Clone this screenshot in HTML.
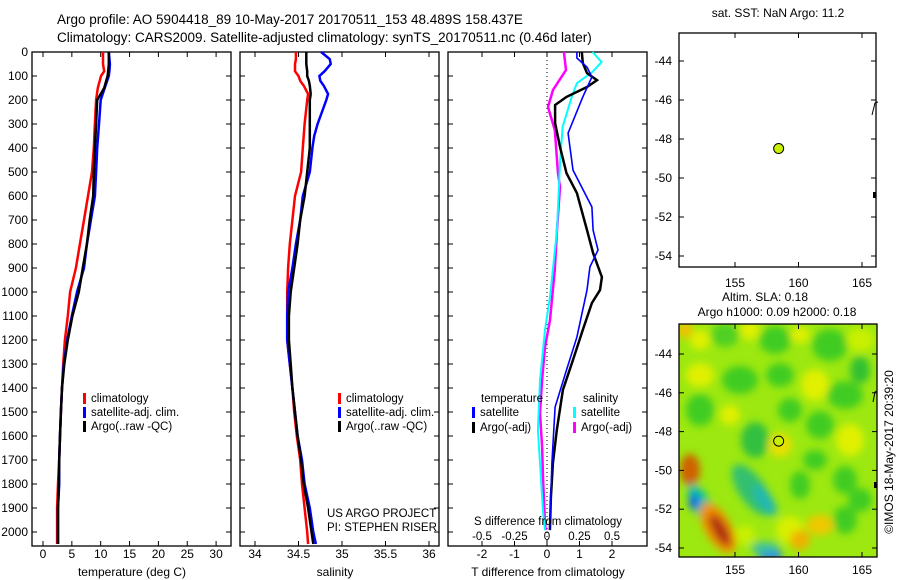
<!DOCTYPE html>
<html><head><meta charset="utf-8"><style>
body{margin:0;background:#fff;}
svg{display:block;font-family:"Liberation Sans",sans-serif;}
text{fill:#000;}
</style></head><body>
<svg id="fig" width="900" height="580" viewBox="0 0 900 580">
<defs>
<filter id="blur" x="-30%" y="-30%" width="160%" height="160%"><feGaussianBlur stdDeviation="4"/></filter>
<clipPath id="mapclip"><rect x="679" y="324" width="198" height="233"/></clipPath>
</defs>
<text x="57" y="24" font-size="13.5">Argo profile: AO 5904418_89 10-May-2017 20170511_153 48.489S 158.437E</text>
<text x="57" y="42" font-size="13.5">Climatology: CARS2009. Satellite-adjusted climatology: synTS_20170511.nc (0.46d later)</text>
<g id="g"></g>
</svg>
<script>
// ---- data ----
const tDepth = [0,50,80,100,150,200,300,400,500,600,700,800,900,1000,1100,1200,1300,1400,1500,1600,1700,1800,1900,2000,2050];
const tClim  = [10.4,10.4,10.6,10.05,9.5,9.2,9.0,8.8,8.5,7.8,7.1,6.4,5.7,4.7,4.3,3.8,3.5,3.3,3.1,2.95,2.8,2.6,2.45,2.45,2.45];
const tSat   = [11.4,11.6,11.5,11.4,10.7,10.0,9.7,9.4,9.2,9.0,8.3,7.6,7.1,5.9,5.0,4.2,3.6,3.3,3.1,2.95,2.8,2.8,2.6,2.6,2.6];
const tArgo  = [11.4,11.4,11.3,11.2,10.6,9.4,9.2,9.0,8.8,8.7,8.1,7.6,6.9,6.2,5.1,4.3,3.7,3.3,3.1,2.95,2.8,2.75,2.6,2.6,2.6];
const sDepth = [0,30,50,80,100,120,140,175,200,300,350,400,500,600,700,800,900,1000,1100,1200,1300,1400,1500,1600,1700,1800,1900,2000,2050];
const sClim  = [34.47,34.47,34.46,34.46,34.5,34.52,34.56,34.61,34.6,34.57,34.56,34.55,34.53,34.46,34.43,34.40,34.38,34.37,34.37,34.37,34.40,34.43,34.45,34.48,34.52,34.54,34.57,34.60,34.61];
const sSat   = [34.76,34.86,34.87,34.8,34.74,34.75,34.79,34.84,34.82,34.72,34.68,34.66,34.63,34.55,34.52,34.47,34.43,34.38,34.37,34.37,34.40,34.43,34.46,34.49,34.54,34.57,34.63,34.67,34.70];
const sArgo  = [34.59,34.59,34.59,34.60,34.60,34.62,34.63,34.64,34.63,34.63,34.63,34.63,34.6,34.57,34.52,34.49,34.45,34.41,34.39,34.39,34.41,34.43,34.46,34.49,34.53,34.56,34.61,34.65,34.67];
const dTsatDepth = [0,25,63,104,187,338,492,646,742,825,896,992,1188,1325,1479,1713,1992];
const dTsat      = [0.92,0.92,1.23,1.38,1.1,0.65,0.8,1.38,1.42,1.57,1.32,1.23,0.92,0.6,0.25,0.15,0.09];
const dTargoDepth= [0,46,88,117,146,187,221,296,396,505,588,742,838,938,992,1046,1158,1283,1408,1575,1713,1854,1992];
const dTargo     = [1.07,1.1,1.23,1.54,1.23,0.6,0.25,0.25,0.4,0.6,0.92,1.23,1.42,1.69,1.63,1.38,1.1,0.8,0.49,0.3,0.18,0.12,0.09];
const dSsatDepth = [0,42,83,130,187,312,463,742,1020,1158,1367,1575,1713,1921,1992];
const dSsat      = [0.35,0.42,0.35,0.23,0.19,0.12,0.1,0.077,0.023,-0.015,-0.054,-0.07,-0.054,-0.03,-0.015];
const dSargoDepth= [0,75,158,229,325,505,562,742,908,1117,1229,1367,1504,1646,1783,1963,1992];
const dSargo     = [0.13,0.146,0.046,0.008,0.06,0.085,0.1,0.077,0.06,0.023,-0.015,-0.038,-0.054,-0.038,-0.03,-0.015,-0.01];
const depthTicks = [0,100,200,300,400,500,600,700,800,900,1000,1100,1200,1300,1400,1500,1600,1700,1800,1900,2000];
const tTicks = [0,5,10,15,20,25,30];
const sTicks = [34,34.5,35,35.5,36];
const dTTicks = [-2,-1,0,1,2];
const dSTicks = [-0.5,-0.25,0,0.25,0.5];
const dSTickLabels = ["-0.5","-0.25","0","0.25","0.5"];
const latTicks = [-44,-46,-48,-50,-52,-54];
const lonTicks = [155,160,165];
const argoLon = 158.437, argoLat = -48.489;

// ---- scales ----
const PT=52, PB=546;
const yD = d => PT + d*0.24;
const x1 = v => 43 + v*5.77;
const x2 = v => 255 + (v-34)*87;
const x3T = v => 547 + v*32.5;
const x3S = v => 547 + v*130;
const lonX = v => 735 + (v-155)*12.7;
const lat1 = v => 61 + (-44 - v)*19.5;
const lat2 = v => 354 + (-44 - v)*19.4;

const NS="http://www.w3.org/2000/svg";
const G=document.getElementById('g');
function mk(tag, attrs, parent){const e=document.createElementNS(NS,tag);for(const k in attrs)e.setAttribute(k,attrs[k]);(parent||G).appendChild(e);return e;}
function txt(x,y,s,anchor,size,parent){const t=mk('text',{x:x,y:y,'font-size':size||12,'text-anchor':anchor||'start'},parent);t.textContent=s;return t;}

function panel(name,L,R){
  const r=mk('rect',{x:L,y:PT,width:R-L,height:PB-PT,fill:'none',stroke:'#000','stroke-width':1.3});
  
  
  depthTicks.forEach(d=>{mk('line',{x1:L,x2:L+5,y1:yD(d),y2:yD(d),stroke:'#000'});mk('line',{x1:R-5,x2:R,y1:yD(d),y2:yD(d),stroke:'#000'});});
}
function xticks(L,vals,fx,labels,ly){
  vals.forEach((v,i)=>{const x=fx(v);mk('line',{x1:x,x2:x,y1:PT,y2:PT+5,stroke:'#000'});mk('line',{x1:x,x2:x,y1:PB-5,y2:PB,stroke:'#000'});
    if(labels){const t=txt(x,ly,labels[i],'middle',12);}});
}
function line(depths,vals,fx,color,w,name){
  const pts=depths.map((d,i)=>fx(vals[i]).toFixed(1)+','+yD(d).toFixed(1)).join(' ');
  const p=mk('polyline',{points:pts,fill:'none',stroke:color,'stroke-width':w,'stroke-linejoin':'miter'});
  
  
}
function legendItem(x,y,color,label){
  mk('rect',{x:x,y:y-9,width:3,height:11,fill:color});
  const t=txt(x+8,y,label,'start',11.5);
  
  
}

// y tick labels
depthTicks.forEach(d=>{const t=txt(28,yD(d)+4,String(d),'end',12);});

// panel 1
panel('temperature-panel',32,231);
xticks(32,tTicks,x1,tTicks.map(String),558);
line(tDepth,tClim,x1,'#f00',2.5,'temp-climatology-line');
line(tDepth,tSat,x1,'#00f',2.5,'temp-satellite-line');
line(tDepth,tArgo,x1,'#000',2.5,'temp-argo-line');
legendItem(83,402,'#f00','climatology');
legendItem(83,416,'#00f','satellite-adj. clim.');
legendItem(83,430,'#000','Argo(..raw -QC)');
let t=txt(132,576,'temperature (deg C)','middle',12);



// panel 2
panel('salinity-panel',240,439);
xticks(240,sTicks,x2,sTicks.map(String),558);
line(sDepth,sClim,x2,'#f00',2.5,'sal-climatology-line');
line(sDepth,sSat,x2,'#00f',2.5,'sal-satellite-line');
line(sDepth,sArgo,x2,'#000',2.5,'sal-argo-line');
legendItem(338,402,'#f00','climatology');
legendItem(338,416,'#00f','satellite-adj. clim.');
legendItem(338,430,'#000','Argo(..raw -QC)');
t=txt(335,576,'salinity','middle',12);


t=txt(327,517,'US ARGO PROJECT','start',11.5);


t=txt(327,531,'PI: STEPHEN RISER','start',11.5);



// panel 3
panel('difference-panel',448,647);
xticks(448,dTTicks,x3T,dTTicks.map(String),558);
dSTicks.forEach(v=>{const x=x3S(v);mk('line',{x1:x,x2:x,y1:PB-4,y2:PB,stroke:'#000'});});
dSTicks.forEach((v,i)=>{const t=txt(x3S(v),540,dSTickLabels[i],'middle',11.5);});
mk('line',{x1:x3T(0),x2:x3T(0),y1:PT,y2:PB,stroke:'#000','stroke-width':1,'stroke-dasharray':'1,3'});
line(dSargoDepth,dSargo,x3S,'#f0f',2.5,'dS-argo-line');
line(dSsatDepth,dSsat,x3S,'#0ff',2,'dS-satellite-line');
line(dTargoDepth,dTargo,x3T,'#000',2.5,'dT-argo-line');
line(dTsatDepth,dTsat,x3T,'#00f',1.6,'dT-satellite-line');
txt(481,402,'temperature','start',11.5);
txt(583,402,'salinity','start',11.5);
legendItem(472,416,'#00f','satellite');
legendItem(472,431,'#000','Argo(-adj)');
legendItem(573,416,'#0ff','satellite');
legendItem(573,431,'#f0f','Argo(-adj)');
t=txt(548,525,'S difference from climatology','middle',11.5);


t=txt(548,576,'T difference from climatology','middle',12);



// map 1
t=txt(778,17,'sat. SST: NaN Argo: 11.2','middle',12);


let m=mk('rect',{x:679,y:33,width:197,height:234,fill:'#fff',stroke:'#000','stroke-width':1.3});


latTicks.forEach(v=>{const y=lat1(v);mk('line',{x1:679,x2:684,y1:y,y2:y,stroke:'#000'});mk('line',{x1:871,x2:876,y1:y,y2:y,stroke:'#000'});txt(672,y+4,String(v),'end',12);});
lonTicks.forEach(v=>{const x=lonX(v);mk('line',{x1:x,x2:x,y1:33,y2:38,stroke:'#000'});mk('line',{x1:x,x2:x,y1:262,y2:267,stroke:'#000'});txt(x,287,String(v),'middle',12);});
mk('path',{d:'M872,115 L875,103 L878,102',fill:'none',stroke:'#000','stroke-width':1});
mk('rect',{x:873,y:192,width:3,height:6,fill:'#000'});
let dot=mk('circle',{cx:lonX(argoLon),cy:lat1(argoLat),r:5,fill:'#c8f000',stroke:'#000','stroke-width':1});



// map 2
t=txt(765,301,'Altim. SLA: 0.18','middle',12);


txt(777,316,'Argo h1000: 0.09 h2000: 0.18','middle',12);
const hm=mk('g',{'clip-path':'url(#mapclip)'});


mk('rect',{x:679,y:324,width:198,height:233,fill:'#9ce810'},hm);
const bl=mk('g',{filter:'url(#blur)'},hm);
const blobs=[
 [685,330,8,8,'#f0c000',0],[700,340,10,10,'#e0f000',0],[725,335,14,12,'#50d020',0],[750,330,10,10,'#e0f000',0],
 [775,340,16,14,'#40cc20',0],[800,335,10,8,'#e0f000',0],[830,345,18,16,'#40cc20',0],[860,340,14,12,'#c8f000',0],
 [700,375,14,12,'#e0f000',0],[740,380,18,14,'#40cc20',0],[780,375,14,12,'#40cc20',0],[815,385,14,16,'#e0f000',0],
 [845,395,18,14,'#40cc20',0],[860,370,10,14,'#30c030',0],[700,410,14,16,'#40cc20',0],[730,415,10,10,'#e0f000',0],
 [755,440,14,18,'#30c040',0],[790,410,12,12,'#40cc20',0],[820,425,14,14,'#40cc20',0],[850,440,14,16,'#e0f000',0],
 [780,445,12,12,'#e8e000',0],[815,460,12,10,'#40cc20',0],[845,480,12,14,'#40cc20',0],[860,500,12,12,'#40cc20',0],
 [845,520,12,14,'#40cc20',0],[800,485,10,14,'#40cc20',0],[820,525,14,10,'#f0c800',0],[790,530,14,14,'#d8f000',0],
 [690,470,10,16,'#d06000',0],[702,505,9,24,'#10c0a0',-30],[694,502,5,8,'#1060f0',0],
 [718,528,13,28,'#f09000',-30],[720,530,7,18,'#b03010',-30],
 [752,490,13,30,'#30c070',-35],[765,500,7,18,'#20b8b0',-35],
 [770,555,12,6,'#2080f0',0],[765,548,14,6,'#40c0a0',0],[800,540,10,10,'#f0b000',0],[745,535,10,10,'#c8f000',0]
];
blobs.forEach(b=>{const e=mk('ellipse',{cx:b[0],cy:b[1],rx:b[2],ry:b[3],fill:b[4]},bl);e.setAttribute('transform','rotate('+b[5]+' '+b[0]+' '+b[1]+')');});
m=mk('rect',{x:679,y:324,width:198,height:233,fill:'none',stroke:'#000','stroke-width':1.3});


latTicks.forEach(v=>{const y=lat2(v);mk('line',{x1:679,x2:684,y1:y,y2:y,stroke:'#000'});mk('line',{x1:872,x2:877,y1:y,y2:y,stroke:'#000'});txt(672,y+4,String(v),'end',12);});
lonTicks.forEach(v=>{const x=lonX(v);mk('line',{x1:x,x2:x,y1:324,y2:329,stroke:'#000'});mk('line',{x1:x,x2:x,y1:552,y2:557,stroke:'#000'});txt(x,574,String(v),'middle',12);});
mk('path',{d:'M873,402 L875,392 L877,391',fill:'none',stroke:'#000','stroke-width':1});
mk('rect',{x:874,y:482,width:3,height:6,fill:'#000'});
dot=mk('circle',{cx:lonX(argoLon),cy:lat2(argoLat),r:5,fill:'#c8f000',stroke:'#000','stroke-width':1});


t=txt(0,0,'©IMOS 18-May-2017 20:39:20','middle',12);
t.setAttribute('transform','translate(893,452) rotate(-90)');


</script>
</body></html>
